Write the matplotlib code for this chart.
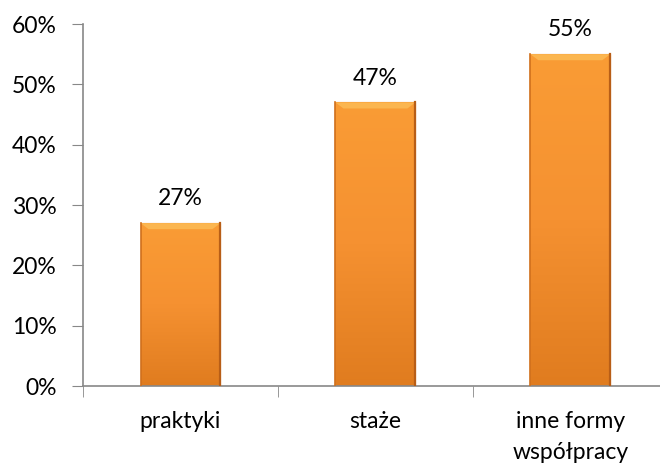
import matplotlib.pyplot as plt
import numpy as np
from matplotlib.colors import LinearSegmentedColormap

categories = ['praktyki', 'staże', 'inne formy\nwspółpracy']
values = [27, 47, 55]
yticks = [0, 10, 20, 30, 40, 50, 60]

plt.rcParams['font.family'] = ['Lato', 'DejaVu Sans']
fs = 16.5

fig = plt.figure(figsize=(6.6, 4.63), dpi=100)
ax = fig.add_axes([0.1258, 0.1663, 0.886, 0.7818])

x = np.arange(len(categories))
bars = ax.bar(x, values, width=0.41, color='#F7962F', edgecolor='#C9691B', linewidth=0.8, zorder=2)

# gradient fill inside each bar, darker towards the bottom
cmap = LinearSegmentedColormap.from_list('org', ['#E07C1F', '#F59131', '#FA9C35'])
grad = np.linspace(0, 1, 256).reshape(-1, 1)
for b in bars:
    x0, w, h = b.get_x(), b.get_width(), b.get_height()
    im = ax.imshow(grad, cmap=cmap, aspect='auto', origin='lower',
                   extent=[x0, x0 + w, 0, h], zorder=2.5)
    im.set_clip_path(b)
    # soft bevel at the top
    ax.fill([x0, x0 + w, x0 + w * 0.9, x0 + w * 0.1], [h, h, h - 1.0, h - 1.0],
            color='#FBB650', zorder=3, lw=0)
    ax.plot([x0, x0], [0, h], color='#D0701D', lw=1.2, zorder=3)
    ax.plot([x0 + w, x0 + w], [0, h], color='#B85E17', lw=1.6, zorder=3)
    ax.text(x0 + w / 2, h + 2.3, f'{b.get_height():.0f}%', ha='center', va='bottom',
            fontsize=fs, color='#000000')

ax.set_xlim(-0.5, 2.5)
ax.set_ylim(0, 60)
ax.set_yticks(yticks)
ax.set_yticklabels([f'{t}%' for t in yticks], fontsize=fs)
ax.set_xticks(x)
ax.set_xticklabels(categories, fontsize=fs, linespacing=1.6)
ax.set_xticks([-0.5, 0.5, 1.5, 2.5], minor=True)
ax.tick_params(axis='x', which='major', length=0, pad=18)
ax.tick_params(axis='x', which='minor', length=8, color='#888888', direction='out')
ax.tick_params(axis='y', length=8, color='#888888', pad=11)
for s in ['top', 'right']:
    ax.spines[s].set_visible(False)
for s in ['left', 'bottom']:
    ax.spines[s].set_color('#888888')
    ax.spines[s].set_linewidth(1.2)

fig.savefig('out.png', dpi=100)
